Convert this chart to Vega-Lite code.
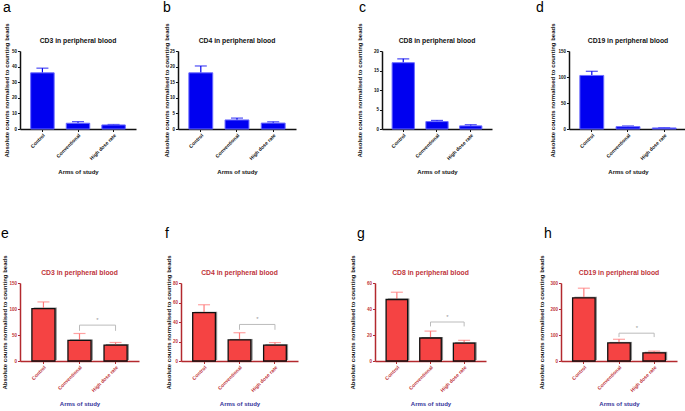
{
  "$schema": "https://vega.github.io/schema/vega-lite/v6.json",
  "padding": {"left": 0, "top": 0, "right": 0, "bottom": 0},
  "background": "white",
  "datasets": {
    "bars": [
      {"panel": "a", "arm": "Control", "mean": 36, "upper": 39},
      {"panel": "a", "arm": "Conventional", "mean": 3.7, "upper": 4.7},
      {"panel": "a", "arm": "High dose rate", "mean": 2.6, "upper": 2.9},
      {"panel": "b", "arm": "Control", "mean": 18, "upper": 20.2},
      {"panel": "b", "arm": "Conventional", "mean": 2.9, "upper": 3.5},
      {"panel": "b", "arm": "High dose rate", "mean": 1.9, "upper": 2.3},
      {"panel": "c", "arm": "Control", "mean": 17, "upper": 18},
      {"panel": "c", "arm": "Conventional", "mean": 1.9, "upper": 2.2},
      {"panel": "c", "arm": "High dose rate", "mean": 0.8, "upper": 1.1},
      {"panel": "d", "arm": "Control", "mean": 103, "upper": 111},
      {"panel": "d", "arm": "Conventional", "mean": 4.5, "upper": 5.8},
      {"panel": "d", "arm": "High dose rate", "mean": 2, "upper": 2.6},
      {"panel": "e", "arm": "Control", "mean": 100.8, "upper": 113.6},
      {"panel": "e", "arm": "Conventional", "mean": 39.5, "upper": 52.9},
      {"panel": "e", "arm": "High dose rate", "mean": 30.6, "upper": 35.6},
      {"panel": "f", "arm": "Control", "mean": 49.6, "upper": 57.7},
      {"panel": "f", "arm": "Conventional", "mean": 21.6, "upper": 29},
      {"panel": "f", "arm": "High dose rate", "mean": 16.2, "upper": 18.9},
      {"panel": "g", "arm": "Control", "mean": 47.3, "upper": 52.9},
      {"panel": "g", "arm": "Conventional", "mean": 17.7, "upper": 23},
      {"panel": "g", "arm": "High dose rate", "mean": 13.7, "upper": 15.9},
      {"panel": "h", "arm": "Control", "mean": 243, "upper": 280},
      {"panel": "h", "arm": "Conventional", "mean": 69.6, "upper": 83.5},
      {"panel": "h", "arm": "High dose rate", "mean": 31.6, "upper": 38}
    ],
    "sig": [
      {"panel": "e", "arm": "Conventional", "arm2": "High dose rate", "top": 69, "low": 58, "label": "*"},
      {"panel": "f", "arm": "Conventional", "arm2": "High dose rate", "top": 37.5, "low": 32, "label": "*"},
      {"panel": "g", "arm": "Conventional", "arm2": "High dose rate", "top": 30, "low": 26.6, "label": "*"},
      {"panel": "h", "arm": "Conventional", "arm2": "High dose rate", "top": 107, "low": 92, "label": "*"}
    ]
  },
  "vconcat": [
    {
      "spacing": 26,
      "hconcat": [
        {
          "title": {"text": "a", "anchor": "start", "frame": "bounds", "fontSize": 14, "fontWeight": "normal", "color": "black", "offset": 8},
          "vconcat": [{
            "width": 116, "height": 78,
            "title": {"text": "CD3 in peripheral blood", "anchor": "middle", "frame": "group", "offset": -22},
            "data": {"name": "bars"},
            "transform": [{"filter": "datum.panel === 'a'"}],
            "encoding": {
              "x": {"field": "arm", "type": "nominal", "scale": {"domain": ["Control", "Conventional", "High dose rate"], "paddingInner": 0.34, "paddingOuter": 0.3}, "axis": {"title": "Arms of study"}}
            },
            "layer": [
              {"mark": {"type": "rule", "color": "#0000f0", "strokeWidth": 1.2}, "encoding": {"y": {"field": "mean", "type": "quantitative", "scale": {"domain": [0, 50]}, "axis": {"values": [0, 10, 20, 30, 40, 50], "title": "Absolute counts normalised to counting beads", "titleX": -11}}, "y2": {"field": "upper"}}},
              {"mark": {"type": "tick", "color": "#0000f0", "size": 12, "thickness": 1.2}, "encoding": {"y": {"field": "upper", "type": "quantitative", "scale": {"domain": [0, 50]}, "axis": {"values": [0, 10, 20, 30, 40, 50], "title": "Absolute counts normalised to counting beads", "titleX": -11}}}},
              {"mark": {"type": "bar", "color": "#0000f0", "stroke": "#6b6bff", "strokeWidth": 1}, "encoding": {"y": {"field": "mean", "type": "quantitative", "scale": {"domain": [0, 50]}, "axis": {"values": [0, 10, 20, 30, 40, 50], "title": "Absolute counts normalised to counting beads", "titleX": -11}}}}
            ]
          }]
        },
        {
          "spacing": 59,
          "hconcat": [
            {
              "title": {"text": "b", "anchor": "start", "frame": "bounds", "fontSize": 14, "fontWeight": "normal", "color": "black", "offset": 8},
              "vconcat": [{
                "width": 118, "height": 78,
                "title": {"text": "CD4 in peripheral blood", "anchor": "middle", "frame": "group", "offset": -22},
                "data": {"name": "bars"},
                "transform": [{"filter": "datum.panel === 'b'"}],
                "encoding": {
                  "x": {"field": "arm", "type": "nominal", "scale": {"domain": ["Control", "Conventional", "High dose rate"], "paddingInner": 0.34, "paddingOuter": 0.3}, "axis": {"title": "Arms of study"}}
                },
                "layer": [
                  {"mark": {"type": "rule", "color": "#0000f0", "strokeWidth": 1.2}, "encoding": {"y": {"field": "mean", "type": "quantitative", "scale": {"domain": [0, 25]}, "axis": {"values": [0, 5, 10, 15, 20, 25], "title": "Absolute counts normalised to counting beads", "titleX": -9}}, "y2": {"field": "upper"}}},
                  {"mark": {"type": "tick", "color": "#0000f0", "size": 12, "thickness": 1.2}, "encoding": {"y": {"field": "upper", "type": "quantitative", "scale": {"domain": [0, 25]}, "axis": {"values": [0, 5, 10, 15, 20, 25], "title": "Absolute counts normalised to counting beads", "titleX": -9}}}},
                  {"mark": {"type": "bar", "color": "#0000f0", "stroke": "#6b6bff", "strokeWidth": 1}, "encoding": {"y": {"field": "mean", "type": "quantitative", "scale": {"domain": [0, 25]}, "axis": {"values": [0, 5, 10, 15, 20, 25], "title": "Absolute counts normalised to counting beads", "titleX": -9}}}}
                ]
              }]
            },
            {
              "spacing": 43,
              "hconcat": [
                {
                  "title": {"text": "c", "anchor": "start", "frame": "bounds", "fontSize": 14, "fontWeight": "normal", "color": "black", "offset": 8, "dx": 3},
                  "vconcat": [{
                    "width": 110, "height": 78,
                    "title": {"text": "CD8 in peripheral blood", "anchor": "middle", "frame": "group", "offset": -22},
                    "data": {"name": "bars"},
                    "transform": [{"filter": "datum.panel === 'c'"}],
                    "encoding": {
                      "x": {"field": "arm", "type": "nominal", "scale": {"domain": ["Control", "Conventional", "High dose rate"], "paddingInner": 0.34, "paddingOuter": 0.3}, "axis": {"title": "Arms of study"}}
                    },
                    "layer": [
                      {"mark": {"type": "rule", "color": "#0000f0", "strokeWidth": 1.2}, "encoding": {"y": {"field": "mean", "type": "quantitative", "scale": {"domain": [0, 20]}, "axis": {"values": [0, 5, 10, 15, 20], "title": "Absolute counts normalised to counting beads", "titleX": -20}}, "y2": {"field": "upper"}}},
                      {"mark": {"type": "tick", "color": "#0000f0", "size": 12, "thickness": 1.2}, "encoding": {"y": {"field": "upper", "type": "quantitative", "scale": {"domain": [0, 20]}, "axis": {"values": [0, 5, 10, 15, 20], "title": "Absolute counts normalised to counting beads", "titleX": -20}}}},
                      {"mark": {"type": "bar", "color": "#0000f0", "stroke": "#6b6bff", "strokeWidth": 1}, "encoding": {"y": {"field": "mean", "type": "quantitative", "scale": {"domain": [0, 20]}, "axis": {"values": [0, 5, 10, 15, 20], "title": "Absolute counts normalised to counting beads", "titleX": -20}}}}
                    ]
                  }]
                },
                {
                  "title": {"text": "d", "anchor": "start", "frame": "bounds", "fontSize": 14, "fontWeight": "normal", "color": "black", "offset": 8, "dx": -13},
                  "vconcat": [{
                    "width": 118, "height": 78,
                    "title": {"text": "CD19 in peripheral blood", "anchor": "middle", "frame": "group", "offset": -22},
                    "data": {"name": "bars"},
                    "transform": [{"filter": "datum.panel === 'd'"}],
                    "encoding": {
                      "x": {"field": "arm", "type": "nominal", "scale": {"domain": ["Control", "Conventional", "High dose rate"], "paddingInner": 0.34, "paddingOuter": 0.3}, "axis": {"title": "Arms of study"}}
                    },
                    "layer": [
                      {"mark": {"type": "rule", "color": "#0000f0", "strokeWidth": 1.2}, "encoding": {"y": {"field": "mean", "type": "quantitative", "scale": {"domain": [0, 150]}, "axis": {"values": [0, 50, 100, 150], "title": "Absolute counts normalised to counting beads", "titleX": -14}}, "y2": {"field": "upper"}}},
                      {"mark": {"type": "tick", "color": "#0000f0", "size": 12, "thickness": 1.2}, "encoding": {"y": {"field": "upper", "type": "quantitative", "scale": {"domain": [0, 150]}, "axis": {"values": [0, 50, 100, 150], "title": "Absolute counts normalised to counting beads", "titleX": -14}}}},
                      {"mark": {"type": "bar", "color": "#0000f0", "stroke": "#6b6bff", "strokeWidth": 1}, "encoding": {"y": {"field": "mean", "type": "quantitative", "scale": {"domain": [0, 150]}, "axis": {"values": [0, 50, 100, 150], "title": "Absolute counts normalised to counting beads", "titleX": -14}}}}
                    ]
                  }]
                }
              ]
            }
          ]
        }
      ]
    },
    {
      "spacing": 25,
      "hconcat": [
        {
          "title": {"text": "e", "anchor": "start", "frame": "bounds", "fontSize": 14, "fontWeight": "normal", "color": "black", "offset": 14},
          "vconcat": [{
            "width": 119, "height": 78,
            "title": {"text": "CD3 in peripheral blood", "anchor": "middle", "frame": "group", "offset": -22, "color": "#c0343a"},
            "data": {"name": "bars"},
            "transform": [{"filter": "datum.panel === 'e'"}],
            "encoding": {
              "x": {"field": "arm", "type": "nominal", "scale": {"domain": ["Control", "Conventional", "High dose rate"], "paddingInner": 0.36, "paddingOuter": 0.33}, "axis": {"title": "Arms of study", "domainColor": "#b3292e", "tickColor": "#b3292e", "labelColor": "#c0343a", "titleColor": "#33339a"}}
            },
            "layer": [
              {"mark": {"type": "bar", "color": "#8c8c8c", "xOffset": 1.8, "yOffset": -1}, "encoding": {"y": {"field": "mean", "type": "quantitative", "scale": {"domain": [0, 150]}, "axis": {"values": [0, 50, 100, 150], "title": "Absolute counts normalised to counting beads", "titleX": -13, "domainColor": "#b3292e", "tickColor": "#b3292e", "labelColor": "#c0343a"}}}},
              {"mark": {"type": "rule", "color": "#ff7b7b", "strokeWidth": 1.2}, "encoding": {"y": {"field": "mean", "type": "quantitative", "scale": {"domain": [0, 150]}, "axis": {"values": [0, 50, 100, 150], "title": "Absolute counts normalised to counting beads", "titleX": -13, "domainColor": "#b3292e", "tickColor": "#b3292e", "labelColor": "#c0343a"}}, "y2": {"field": "upper"}}},
              {"mark": {"type": "tick", "color": "#ff7b7b", "size": 12, "thickness": 1.2}, "encoding": {"y": {"field": "upper", "type": "quantitative", "scale": {"domain": [0, 150]}, "axis": {"values": [0, 50, 100, 150], "title": "Absolute counts normalised to counting beads", "titleX": -13, "domainColor": "#b3292e", "tickColor": "#b3292e", "labelColor": "#c0343a"}}}},
              {"mark": {"type": "bar", "color": "#f54343", "stroke": "#111111", "strokeWidth": 1.3}, "encoding": {"y": {"field": "mean", "type": "quantitative", "scale": {"domain": [0, 150]}, "axis": {"values": [0, 50, 100, 150], "title": "Absolute counts normalised to counting beads", "titleX": -13, "domainColor": "#b3292e", "tickColor": "#b3292e", "labelColor": "#c0343a"}}}},
              {"data": {"name": "sig"}, "transform": [{"filter": "datum.panel === 'e'"}], "mark": {"type": "rule", "color": "#bbbbbb", "strokeWidth": 1}, "encoding": {"x2": {"field": "arm2"}, "y": {"field": "top", "type": "quantitative", "scale": {"domain": [0, 150]}, "axis": {"values": [0, 50, 100, 150], "title": "Absolute counts normalised to counting beads", "titleX": -13, "domainColor": "#b3292e", "tickColor": "#b3292e", "labelColor": "#c0343a"}}}},
              {"data": {"name": "sig"}, "transform": [{"filter": "datum.panel === 'e'"}], "mark": {"type": "rule", "color": "#bbbbbb", "strokeWidth": 1}, "encoding": {"y": {"field": "top", "type": "quantitative", "scale": {"domain": [0, 150]}, "axis": {"values": [0, 50, 100, 150], "title": "Absolute counts normalised to counting beads", "titleX": -13, "domainColor": "#b3292e", "tickColor": "#b3292e", "labelColor": "#c0343a"}}, "y2": {"field": "low"}}},
              {"data": {"name": "sig"}, "transform": [{"filter": "datum.panel === 'e'"}], "mark": {"type": "rule", "color": "#bbbbbb", "strokeWidth": 1}, "encoding": {"x": {"field": "arm2", "type": "nominal", "scale": {"domain": ["Control", "Conventional", "High dose rate"], "paddingInner": 0.36, "paddingOuter": 0.33}, "axis": {"title": "Arms of study", "domainColor": "#b3292e", "tickColor": "#b3292e", "labelColor": "#c0343a", "titleColor": "#33339a"}}, "y": {"field": "top", "type": "quantitative", "scale": {"domain": [0, 150]}, "axis": {"values": [0, 50, 100, 150], "title": "Absolute counts normalised to counting beads", "titleX": -13, "domainColor": "#b3292e", "tickColor": "#b3292e", "labelColor": "#c0343a"}}, "y2": {"field": "low"}}},
              {"data": {"name": "sig"}, "transform": [{"filter": "datum.panel === 'e'"}], "mark": {"type": "text", "color": "#999999", "fontSize": 6, "dx": 18, "dy": -3, "baseline": "alphabetic"}, "encoding": {"text": {"field": "label"}, "y": {"field": "top", "type": "quantitative", "scale": {"domain": [0, 150]}, "axis": {"values": [0, 50, 100, 150], "title": "Absolute counts normalised to counting beads", "titleX": -13, "domainColor": "#b3292e", "tickColor": "#b3292e", "labelColor": "#c0343a"}}}}
            ]
          }]
        },
        {
          "spacing": 50,
          "hconcat": [
            {
              "title": {"text": "f", "anchor": "start", "frame": "bounds", "fontSize": 14, "fontWeight": "normal", "color": "black", "offset": 14},
              "vconcat": [{
                "width": 117, "height": 78,
                "title": {"text": "CD4 in peripheral blood", "anchor": "middle", "frame": "group", "offset": -22, "color": "#c0343a"},
                "data": {"name": "bars"},
                "transform": [{"filter": "datum.panel === 'f'"}],
                "encoding": {
                  "x": {"field": "arm", "type": "nominal", "scale": {"domain": ["Control", "Conventional", "High dose rate"], "paddingInner": 0.36, "paddingOuter": 0.33}, "axis": {"title": "Arms of study", "domainColor": "#b3292e", "tickColor": "#b3292e", "labelColor": "#c0343a", "titleColor": "#33339a"}}
                },
                "layer": [
                  {"mark": {"type": "bar", "color": "#8c8c8c", "xOffset": 1.8, "yOffset": -1}, "encoding": {"y": {"field": "mean", "type": "quantitative", "scale": {"domain": [0, 80]}, "axis": {"values": [0, 20, 40, 60, 80], "title": "Absolute counts normalised to counting beads", "titleX": -10, "domainColor": "#b3292e", "tickColor": "#b3292e", "labelColor": "#c0343a"}}}},
                  {"mark": {"type": "rule", "color": "#ff7b7b", "strokeWidth": 1.2}, "encoding": {"y": {"field": "mean", "type": "quantitative", "scale": {"domain": [0, 80]}, "axis": {"values": [0, 20, 40, 60, 80], "title": "Absolute counts normalised to counting beads", "titleX": -10, "domainColor": "#b3292e", "tickColor": "#b3292e", "labelColor": "#c0343a"}}, "y2": {"field": "upper"}}},
                  {"mark": {"type": "tick", "color": "#ff7b7b", "size": 12, "thickness": 1.2}, "encoding": {"y": {"field": "upper", "type": "quantitative", "scale": {"domain": [0, 80]}, "axis": {"values": [0, 20, 40, 60, 80], "title": "Absolute counts normalised to counting beads", "titleX": -10, "domainColor": "#b3292e", "tickColor": "#b3292e", "labelColor": "#c0343a"}}}},
                  {"mark": {"type": "bar", "color": "#f54343", "stroke": "#111111", "strokeWidth": 1.3}, "encoding": {"y": {"field": "mean", "type": "quantitative", "scale": {"domain": [0, 80]}, "axis": {"values": [0, 20, 40, 60, 80], "title": "Absolute counts normalised to counting beads", "titleX": -10, "domainColor": "#b3292e", "tickColor": "#b3292e", "labelColor": "#c0343a"}}}},
                  {"data": {"name": "sig"}, "transform": [{"filter": "datum.panel === 'f'"}], "mark": {"type": "rule", "color": "#bbbbbb", "strokeWidth": 1}, "encoding": {"x2": {"field": "arm2"}, "y": {"field": "top", "type": "quantitative", "scale": {"domain": [0, 80]}, "axis": {"values": [0, 20, 40, 60, 80], "title": "Absolute counts normalised to counting beads", "titleX": -10, "domainColor": "#b3292e", "tickColor": "#b3292e", "labelColor": "#c0343a"}}}},
                  {"data": {"name": "sig"}, "transform": [{"filter": "datum.panel === 'f'"}], "mark": {"type": "rule", "color": "#bbbbbb", "strokeWidth": 1}, "encoding": {"y": {"field": "top", "type": "quantitative", "scale": {"domain": [0, 80]}, "axis": {"values": [0, 20, 40, 60, 80], "title": "Absolute counts normalised to counting beads", "titleX": -10, "domainColor": "#b3292e", "tickColor": "#b3292e", "labelColor": "#c0343a"}}, "y2": {"field": "low"}}},
                  {"data": {"name": "sig"}, "transform": [{"filter": "datum.panel === 'f'"}], "mark": {"type": "rule", "color": "#bbbbbb", "strokeWidth": 1}, "encoding": {"x": {"field": "arm2", "type": "nominal", "scale": {"domain": ["Control", "Conventional", "High dose rate"], "paddingInner": 0.36, "paddingOuter": 0.33}, "axis": {"title": "Arms of study", "domainColor": "#b3292e", "tickColor": "#b3292e", "labelColor": "#c0343a", "titleColor": "#33339a"}}, "y": {"field": "top", "type": "quantitative", "scale": {"domain": [0, 80]}, "axis": {"values": [0, 20, 40, 60, 80], "title": "Absolute counts normalised to counting beads", "titleX": -10, "domainColor": "#b3292e", "tickColor": "#b3292e", "labelColor": "#c0343a"}}, "y2": {"field": "low"}}},
                  {"data": {"name": "sig"}, "transform": [{"filter": "datum.panel === 'f'"}], "mark": {"type": "text", "color": "#999999", "fontSize": 6, "dx": 18, "dy": -3, "baseline": "alphabetic"}, "encoding": {"text": {"field": "label"}, "y": {"field": "top", "type": "quantitative", "scale": {"domain": [0, 80]}, "axis": {"values": [0, 20, 40, 60, 80], "title": "Absolute counts normalised to counting beads", "titleX": -10, "domainColor": "#b3292e", "tickColor": "#b3292e", "labelColor": "#c0343a"}}}}
                ]
              }]
            },
            {
              "spacing": 51,
              "hconcat": [
                {
                  "title": {"text": "g", "anchor": "start", "frame": "bounds", "fontSize": 14, "fontWeight": "normal", "color": "black", "offset": 14, "dx": 8},
                  "vconcat": [{
                    "width": 111, "height": 78,
                    "title": {"text": "CD8 in peripheral blood", "anchor": "middle", "frame": "group", "offset": -22, "color": "#c0343a"},
                    "data": {"name": "bars"},
                    "transform": [{"filter": "datum.panel === 'g'"}],
                    "encoding": {
                      "x": {"field": "arm", "type": "nominal", "scale": {"domain": ["Control", "Conventional", "High dose rate"], "paddingInner": 0.36, "paddingOuter": 0.33}, "axis": {"title": "Arms of study", "domainColor": "#b3292e", "tickColor": "#b3292e", "labelColor": "#c0343a", "titleColor": "#33339a"}}
                    },
                    "layer": [
                      {"mark": {"type": "bar", "color": "#8c8c8c", "xOffset": 1.8, "yOffset": -1}, "encoding": {"y": {"field": "mean", "type": "quantitative", "scale": {"domain": [0, 60]}, "axis": {"values": [0, 20, 40, 60], "title": "Absolute counts normalised to counting beads", "titleX": -20, "domainColor": "#b3292e", "tickColor": "#b3292e", "labelColor": "#c0343a"}}}},
                      {"mark": {"type": "rule", "color": "#ff7b7b", "strokeWidth": 1.2}, "encoding": {"y": {"field": "mean", "type": "quantitative", "scale": {"domain": [0, 60]}, "axis": {"values": [0, 20, 40, 60], "title": "Absolute counts normalised to counting beads", "titleX": -20, "domainColor": "#b3292e", "tickColor": "#b3292e", "labelColor": "#c0343a"}}, "y2": {"field": "upper"}}},
                      {"mark": {"type": "tick", "color": "#ff7b7b", "size": 12, "thickness": 1.2}, "encoding": {"y": {"field": "upper", "type": "quantitative", "scale": {"domain": [0, 60]}, "axis": {"values": [0, 20, 40, 60], "title": "Absolute counts normalised to counting beads", "titleX": -20, "domainColor": "#b3292e", "tickColor": "#b3292e", "labelColor": "#c0343a"}}}},
                      {"mark": {"type": "bar", "color": "#f54343", "stroke": "#111111", "strokeWidth": 1.3}, "encoding": {"y": {"field": "mean", "type": "quantitative", "scale": {"domain": [0, 60]}, "axis": {"values": [0, 20, 40, 60], "title": "Absolute counts normalised to counting beads", "titleX": -20, "domainColor": "#b3292e", "tickColor": "#b3292e", "labelColor": "#c0343a"}}}},
                      {"data": {"name": "sig"}, "transform": [{"filter": "datum.panel === 'g'"}], "mark": {"type": "rule", "color": "#bbbbbb", "strokeWidth": 1}, "encoding": {"x2": {"field": "arm2"}, "y": {"field": "top", "type": "quantitative", "scale": {"domain": [0, 60]}, "axis": {"values": [0, 20, 40, 60], "title": "Absolute counts normalised to counting beads", "titleX": -20, "domainColor": "#b3292e", "tickColor": "#b3292e", "labelColor": "#c0343a"}}}},
                      {"data": {"name": "sig"}, "transform": [{"filter": "datum.panel === 'g'"}], "mark": {"type": "rule", "color": "#bbbbbb", "strokeWidth": 1}, "encoding": {"y": {"field": "top", "type": "quantitative", "scale": {"domain": [0, 60]}, "axis": {"values": [0, 20, 40, 60], "title": "Absolute counts normalised to counting beads", "titleX": -20, "domainColor": "#b3292e", "tickColor": "#b3292e", "labelColor": "#c0343a"}}, "y2": {"field": "low"}}},
                      {"data": {"name": "sig"}, "transform": [{"filter": "datum.panel === 'g'"}], "mark": {"type": "rule", "color": "#bbbbbb", "strokeWidth": 1}, "encoding": {"x": {"field": "arm2", "type": "nominal", "scale": {"domain": ["Control", "Conventional", "High dose rate"], "paddingInner": 0.36, "paddingOuter": 0.33}, "axis": {"title": "Arms of study", "domainColor": "#b3292e", "tickColor": "#b3292e", "labelColor": "#c0343a", "titleColor": "#33339a"}}, "y": {"field": "top", "type": "quantitative", "scale": {"domain": [0, 60]}, "axis": {"values": [0, 20, 40, 60], "title": "Absolute counts normalised to counting beads", "titleX": -20, "domainColor": "#b3292e", "tickColor": "#b3292e", "labelColor": "#c0343a"}}, "y2": {"field": "low"}}},
                      {"data": {"name": "sig"}, "transform": [{"filter": "datum.panel === 'g'"}], "mark": {"type": "text", "color": "#999999", "fontSize": 6, "dx": 17, "dy": -3, "baseline": "alphabetic"}, "encoding": {"text": {"field": "label"}, "y": {"field": "top", "type": "quantitative", "scale": {"domain": [0, 60]}, "axis": {"values": [0, 20, 40, 60], "title": "Absolute counts normalised to counting beads", "titleX": -20, "domainColor": "#b3292e", "tickColor": "#b3292e", "labelColor": "#c0343a"}}}}
                    ]
                  }]
                },
                {
                  "title": {"text": "h", "anchor": "start", "frame": "bounds", "fontSize": 14, "fontWeight": "normal", "color": "black", "offset": 14, "dx": 6},
                  "vconcat": [{
                    "width": 116, "height": 78,
                    "title": {"text": "CD19 in peripheral blood", "anchor": "middle", "frame": "group", "offset": -22, "color": "#c0343a"},
                    "data": {"name": "bars"},
                    "transform": [{"filter": "datum.panel === 'h'"}],
                    "encoding": {
                      "x": {"field": "arm", "type": "nominal", "scale": {"domain": ["Control", "Conventional", "High dose rate"], "paddingInner": 0.36, "paddingOuter": 0.33}, "axis": {"title": "Arms of study", "domainColor": "#b3292e", "tickColor": "#b3292e", "labelColor": "#c0343a", "titleColor": "#33339a"}}
                    },
                    "layer": [
                      {"mark": {"type": "bar", "color": "#8c8c8c", "xOffset": 1.8, "yOffset": -1}, "encoding": {"y": {"field": "mean", "type": "quantitative", "scale": {"domain": [0, 300]}, "axis": {"values": [0, 100, 200, 300], "title": "Absolute counts normalised to counting beads", "titleX": -17, "domainColor": "#b3292e", "tickColor": "#b3292e", "labelColor": "#c0343a"}}}},
                      {"mark": {"type": "rule", "color": "#ff7b7b", "strokeWidth": 1.2}, "encoding": {"y": {"field": "mean", "type": "quantitative", "scale": {"domain": [0, 300]}, "axis": {"values": [0, 100, 200, 300], "title": "Absolute counts normalised to counting beads", "titleX": -17, "domainColor": "#b3292e", "tickColor": "#b3292e", "labelColor": "#c0343a"}}, "y2": {"field": "upper"}}},
                      {"mark": {"type": "tick", "color": "#ff7b7b", "size": 12, "thickness": 1.2}, "encoding": {"y": {"field": "upper", "type": "quantitative", "scale": {"domain": [0, 300]}, "axis": {"values": [0, 100, 200, 300], "title": "Absolute counts normalised to counting beads", "titleX": -17, "domainColor": "#b3292e", "tickColor": "#b3292e", "labelColor": "#c0343a"}}}},
                      {"mark": {"type": "bar", "color": "#f54343", "stroke": "#111111", "strokeWidth": 1.3}, "encoding": {"y": {"field": "mean", "type": "quantitative", "scale": {"domain": [0, 300]}, "axis": {"values": [0, 100, 200, 300], "title": "Absolute counts normalised to counting beads", "titleX": -17, "domainColor": "#b3292e", "tickColor": "#b3292e", "labelColor": "#c0343a"}}}},
                      {"data": {"name": "sig"}, "transform": [{"filter": "datum.panel === 'h'"}], "mark": {"type": "rule", "color": "#bbbbbb", "strokeWidth": 1}, "encoding": {"x2": {"field": "arm2"}, "y": {"field": "top", "type": "quantitative", "scale": {"domain": [0, 300]}, "axis": {"values": [0, 100, 200, 300], "title": "Absolute counts normalised to counting beads", "titleX": -17, "domainColor": "#b3292e", "tickColor": "#b3292e", "labelColor": "#c0343a"}}}},
                      {"data": {"name": "sig"}, "transform": [{"filter": "datum.panel === 'h'"}], "mark": {"type": "rule", "color": "#bbbbbb", "strokeWidth": 1}, "encoding": {"y": {"field": "top", "type": "quantitative", "scale": {"domain": [0, 300]}, "axis": {"values": [0, 100, 200, 300], "title": "Absolute counts normalised to counting beads", "titleX": -17, "domainColor": "#b3292e", "tickColor": "#b3292e", "labelColor": "#c0343a"}}, "y2": {"field": "low"}}},
                      {"data": {"name": "sig"}, "transform": [{"filter": "datum.panel === 'h'"}], "mark": {"type": "rule", "color": "#bbbbbb", "strokeWidth": 1}, "encoding": {"x": {"field": "arm2", "type": "nominal", "scale": {"domain": ["Control", "Conventional", "High dose rate"], "paddingInner": 0.36, "paddingOuter": 0.33}, "axis": {"title": "Arms of study", "domainColor": "#b3292e", "tickColor": "#b3292e", "labelColor": "#c0343a", "titleColor": "#33339a"}}, "y": {"field": "top", "type": "quantitative", "scale": {"domain": [0, 300]}, "axis": {"values": [0, 100, 200, 300], "title": "Absolute counts normalised to counting beads", "titleX": -17, "domainColor": "#b3292e", "tickColor": "#b3292e", "labelColor": "#c0343a"}}, "y2": {"field": "low"}}},
                      {"data": {"name": "sig"}, "transform": [{"filter": "datum.panel === 'h'"}], "mark": {"type": "text", "color": "#999999", "fontSize": 6, "dx": 18, "dy": -3, "baseline": "alphabetic"}, "encoding": {"text": {"field": "label"}, "y": {"field": "top", "type": "quantitative", "scale": {"domain": [0, 300]}, "axis": {"values": [0, 100, 200, 300], "title": "Absolute counts normalised to counting beads", "titleX": -17, "domainColor": "#b3292e", "tickColor": "#b3292e", "labelColor": "#c0343a"}}}}
                    ]
                  }]
                }
              ]
            }
          ]
        }
      ]
    }
  ],
  "spacing": 51,
  "config": {
    "view": {"stroke": null},
    "font": "Liberation Sans",
    "axis": {
      "grid": false,
      "labelFont": "Liberation Sans",
      "labelFontSize": 5,
      "labelFontWeight": "bold",
      "labelColor": "#111111",
      "titleFont": "Liberation Sans",
      "titleFontSize": 6,
      "titleFontWeight": "bold",
      "titleColor": "#111111",
      "domainColor": "#111111",
      "tickColor": "#111111",
      "domainWidth": 1.5,
      "tickWidth": 1,
      "tickSize": 2.5,
      "labelPadding": 1
    },
    "axisX": {"labelAngle": -45, "titlePadding": 8},
    "axisY": {"labelFontSize": 4.5},
    "title": {"font": "Liberation Sans", "fontSize": 6.8, "fontWeight": "bold", "color": "#111111", "offset": 8}
  }
}
